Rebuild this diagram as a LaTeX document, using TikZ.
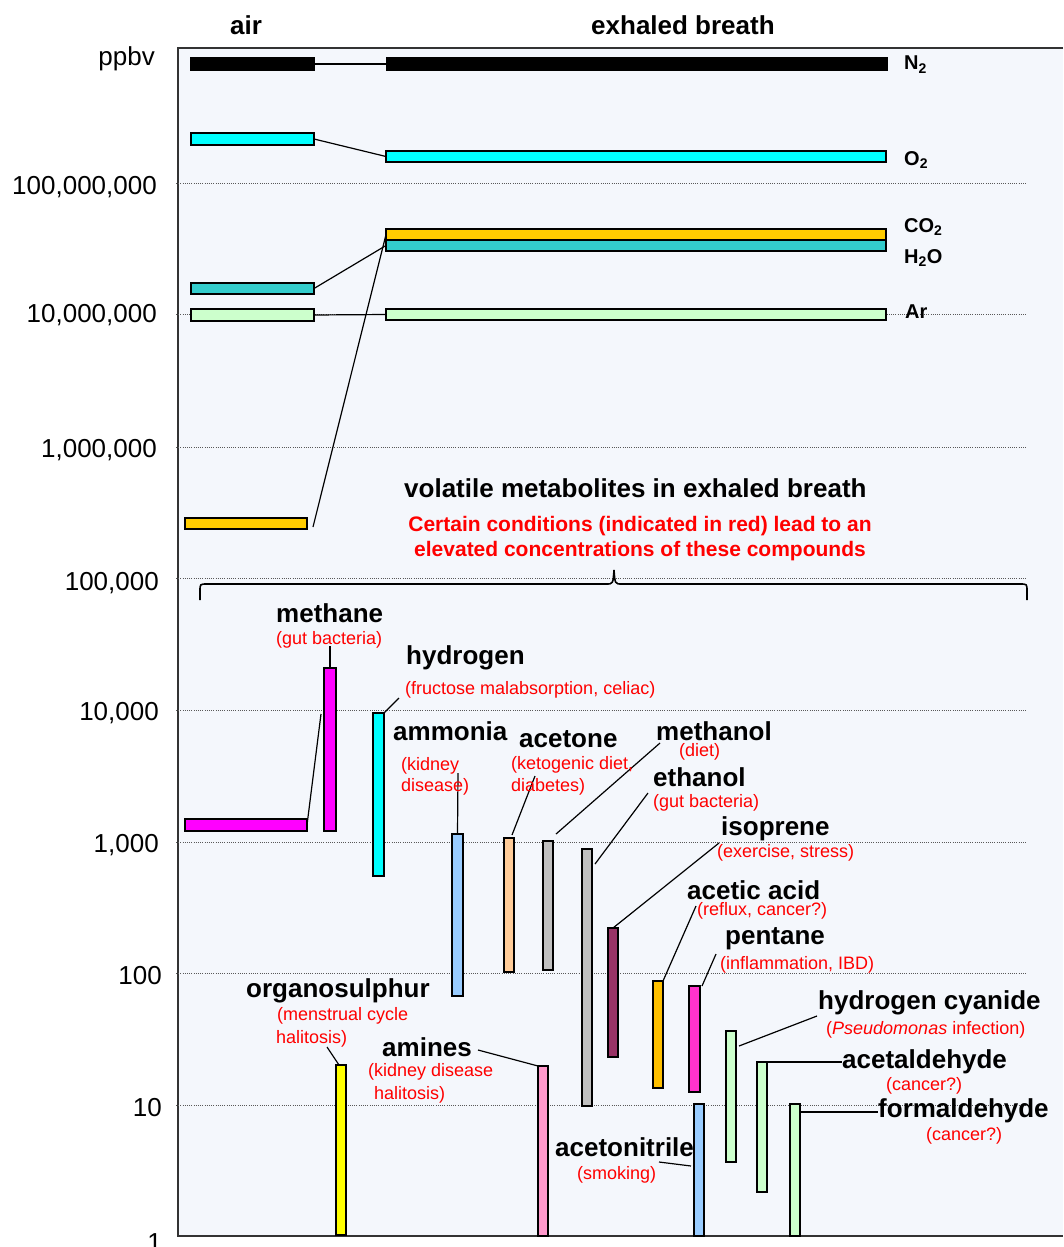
\documentclass[tikz,border=0pt]{standalone}
\usepackage{fontspec}
\setmainfont{Liberation Sans}
\definecolor{bgc}{HTML}{F4F7FC}
\definecolor{framec}{HTML}{333333}
\definecolor{cCyan}{HTML}{00FFFF}
\definecolor{cGold}{HTML}{FFCC00}
\definecolor{cTeal}{HTML}{33CCCC}
\definecolor{cLGreen}{HTML}{CCFFCC}
\definecolor{cMag}{HTML}{FF00FF}
\definecolor{cLBlue}{HTML}{99CCFF}
\definecolor{cPeach}{HTML}{FFCC99}
\definecolor{cGrey}{HTML}{C0C0C0}
\definecolor{cPlum}{HTML}{993366}
\definecolor{cAmber}{HTML}{FFC000}
\definecolor{cPink}{HTML}{FF33CC}
\definecolor{cYel}{HTML}{FFFF00}
\definecolor{cRose}{HTML}{FF99CC}
\definecolor{cRed}{HTML}{FF0000}
\newcommand{\mkbar}[6]{\node[barbox,fill=#2,minimum width={#5-#3},minimum height={#6-#4}] (#1) at ({(#3+#5)/2},{(#4+#6)/2}) {};}
\begin{document}
\begin{tikzpicture}[x=1pt,y=-1pt,
  barbox/.style={draw=black, line width=1.4pt, inner sep=0pt, outer sep=0pt},
  conn/.style={draw=black, line width=1.2pt},
  gridln/.style={draw=black!65, line width=0.9pt, dash pattern=on 1pt off 1.2pt},
  axlab/.style={anchor=base east, inner sep=0pt, font=\fontsize{26}{30}\selectfont},
  cname/.style={anchor=base west, inner sep=0pt, font=\bfseries\fontsize{26}{30}\selectfont},
  cond/.style={anchor=base west, inner sep=0pt, text=cRed, font=\fontsize{18}{21}\selectfont},
  gas/.style={anchor=base west, inner sep=0pt, font=\bfseries\fontsize{20}{24}\selectfont},
  ttl/.style={anchor=base west, inner sep=0pt, font=\bfseries\fontsize{26}{30}\selectfont},
  subttl/.style={anchor=base, inner sep=0pt, text=cRed, font=\bfseries\fontsize{21}{25}\selectfont}]
\useasboundingbox (0,0) rectangle (1063,1247);
% plot area
\fill[bgc] (178,48) rectangle (1063,1236);
\draw[framec, line width=1.5pt] (1063,48) -- (178,48) -- (178,1236) -- (1063,1236);
% grid lines
\foreach \yy in {183,314,447,578,710,842,973,1105}
  \draw[gridln] (176,\yy) -- (1027,\yy);
% axis labels
\node[axlab] (lppbv) at (155,66) {ppbv};
\node[axlab] (l8) at (157,194) {100,000,000};
\node[axlab] (l7) at (157,322) {10,000,000};
\node[axlab] (l6) at (157,457) {1,000,000};
\node[axlab] (l5) at (159,590) {100,000};
\node[axlab] (l4) at (159,720) {10,000};
\node[axlab] (l3) at (159,852) {1,000};
\node[axlab] (l2) at (162,984) {100};
\node[axlab] (l1) at (162,1116) {10};
\node[axlab] (l0) at (162,1251) {1};
% titles
\node[ttl] (tair) at (230,35) {air};
\node[ttl] (texh) at (591,35) {exhaled breath};
% gas bars
\mkbar{n2A}{black}{191}{58}{314}{70}
\mkbar{n2E}{black}{387}{58}{887}{70}
\mkbar{o2A}{cCyan}{191}{133}{314}{145}
\mkbar{o2E}{cCyan}{386}{151}{886}{162}
\mkbar{co2E}{cGold}{386}{229}{886}{240}
\mkbar{h2oE}{cTeal}{386}{240}{886}{251}
\mkbar{co2A}{cGold}{185}{518}{307}{529}
\mkbar{h2oA}{cTeal}{191}{283}{314}{294}
\mkbar{arA}{cLGreen}{191}{309}{314}{321}
\mkbar{arE}{cLGreen}{386}{309}{886}{320}
\coordinate (cCO2) at (313,527);
\draw[conn] (n2A.east) -- (n2E.west);
\draw[conn] (o2A.east) -- (o2E.west);
\draw[conn] (h2oA.east) -- (h2oE.west);
\draw[conn] (cCO2) -- (co2E.west);
\draw[conn] (arA.east) -- (arE.west);
\node[gas] (gN2) at (904,70) {N\textsubscript{2}};
\node[gas] (gO2) at (904,165) {O\textsubscript{2}};
\node[gas] (gCO2) at (904,232) {CO\textsubscript{2}};
\node[gas] (gH2O) at (904,263) {H\textsubscript{2}O};
\node[gas] (gAr) at (905,318) {Ar};
% title of metabolites
\node[ttl] (tvol) at (404,497) {volatile metabolites in exhaled breath};
\node[subttl] (tsub1) at (640,531) {Certain conditions (indicated in red) lead to an};
\node[subttl] (tsub2) at (640,556) {elevated concentrations of these compounds};
% brace
\draw[line width=1.6pt] (200,600) -- (200,591) .. controls (200,584) .. (207,584) -- (606,584) .. controls (613,584) .. (614,570) .. controls (615,584) .. (622,584) -- (1020,584) .. controls (1027,584) .. (1027,591) -- (1027,600);
% metabolite bars
\mkbar{methA}{cMag}{185}{819}{307}{831}
\mkbar{methV}{cMag}{324}{668}{336}{831}
\mkbar{hydV}{cCyan}{373}{713}{384}{876}
\mkbar{ammV}{cLBlue}{452}{834}{463}{996}
\mkbar{acetV}{cPeach}{504}{838}{514}{972}
\mkbar{methoV}{cGrey}{543}{841}{553}{970}
\mkbar{ethV}{cGrey}{582}{849}{592}{1106}
\mkbar{isoV}{cPlum}{608}{928}{618}{1057}
\mkbar{acV}{cAmber}{653}{981}{663}{1088}
\mkbar{penV}{cPink}{689}{986}{700}{1092}
\mkbar{hcnV}{cLGreen}{726}{1031}{736}{1162}
\mkbar{aldV}{cLGreen}{757}{1062}{767}{1192}
\mkbar{formV}{cLGreen}{790}{1104}{800}{1236}
\mkbar{nitV}{cLBlue}{694}{1104}{704}{1236}
\mkbar{orgV}{cYel}{336}{1065}{346}{1235}
\mkbar{amV}{cRose}{538}{1066}{548}{1236}
% connector free ends
\coordinate (cMethA) at (321,714);
\coordinate (cMethL) at (330,646);
\coordinate (cHyd) at (399,698);
\coordinate (cAmm) at (458,773);
\coordinate (cAcet) at (535,776);
\coordinate (cMetho) at (660,743);
\coordinate (cEth) at (648,793);
\coordinate (cIso) at (719,843);
\coordinate (cAc) at (696,906);
\coordinate (cPen) at (716,954);
\coordinate (cHcn) at (817,1016);
\coordinate (cAld) at (842,1062);
\coordinate (cForm) at (878,1112);
\coordinate (cNit) at (659,1162);
\coordinate (cOrg) at (327,1047);
\coordinate (cAm) at (478,1050);
% connectors
\draw[conn] (methA.east) -- (cMethA);
\draw[conn] (methV.north) -- (cMethL);
\draw[conn] (hydV.north east) -- (cHyd);
\draw[conn] (ammV.north) -- (cAmm);
\draw[conn] ([shift={(-2,-3)}]acetV.north east) -- (cAcet);
\draw[conn] ([shift={(3,-7)}]methoV.north east) -- (cMetho);
\draw[conn] ([shift={(3,15)}]ethV.north east) -- (cEth);
\draw[conn] (isoV.north) -- (cIso);
\draw[conn] (acV.north east) -- (cAc);
\draw[conn] ([shift={(2,0)}]penV.north east) -- (cPen);
\draw[conn] ([shift={(3,15)}]hcnV.north east) -- (cHcn);
\draw[conn] (aldV.north east) -- (cAld);
\draw[conn] ([shift={(0,8)}]formV.north east) -- (cForm);
\draw[conn] (cNit) -- ([shift={(-3,62)}]nitV.north west);
\draw[conn] ([shift={(-2,0)}]orgV.north) -- (cOrg);
\draw[conn] (amV.north west) -- (cAm);
% labels
\node[cname] (nMeth) at (276,622) {methane};
\node[cond] (rMeth) at (276,644) {(gut bacteria)};
\node[cname] (nHyd) at (406,664) {hydrogen};
\node[cond] (rHyd) at (405,694) {(fructose malabsorption, celiac)};
\node[cname] (nAmm) at (393,740) {ammonia};
\node[cond] (rAmm1) at (401,770) {(kidney};
\node[cond] (rAmm2) at (401,791) {disease)};
\node[cname] (nAcet) at (519,747) {acetone};
\node[cond] (rAcet1) at (511,769) {(ketogenic diet,};
\node[cond] (rAcet2) at (511,791) {diabetes)};
\node[cname] (nMetho) at (656,740) {methanol};
\node[cond] (rMetho) at (679,756) {(diet)};
\node[cname] (nEth) at (653,786) {ethanol};
\node[cond] (rEth) at (653,807) {(gut bacteria)};
\node[cname] (nIso) at (721,835) {isoprene};
\node[cond] (rIso) at (717,857) {(exercise, stress)};
\node[cname] (nAc) at (687,899) {acetic acid};
\node[cond] (rAc) at (697,915) {(reflux, cancer?)};
\node[cname] (nPen) at (725,944) {pentane};
\node[cond] (rPen) at (720,969) {(inflammation, IBD)};
\node[cname] (nHcn) at (818,1009) {hydrogen cyanide};
\node[cond] (rHcn) at (826,1034) {(\textit{Pseudomonas} infection)};
\node[cname] (nAld) at (842,1068) {acetaldehyde};
\node[cond] (rAld) at (886,1090) {(cancer?)};
\node[cname] (nForm) at (878,1117) {formaldehyde};
\node[cond] (rForm) at (926,1140) {(cancer?)};
\node[cname] (nNit) at (555,1156) {acetonitrile};
\node[cond] (rNit) at (577,1179) {(smoking)};
\node[cname] (nOrg) at (246,997) {organosulphur};
\node[cond] (rOrg1) at (277,1020) {(menstrual cycle};
\node[cond] (rOrg2) at (276,1043) {halitosis)};
\node[cname] (nAm) at (382,1056) {amines};
\node[cond] (rAm1) at (368,1076) {(kidney disease};
\node[cond] (rAm2) at (374,1099) {halitosis)};
\end{tikzpicture}
\end{document}
